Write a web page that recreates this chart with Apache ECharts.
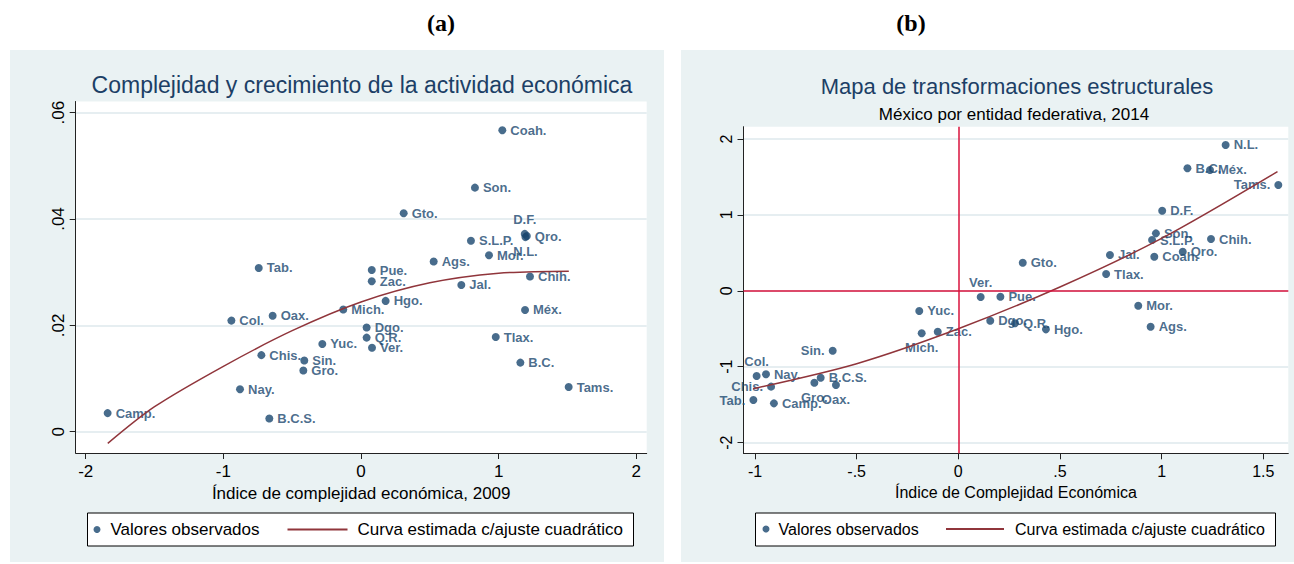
<!DOCTYPE html>
<html><head><meta charset="utf-8">
<script src="https://cdn.jsdelivr.net/npm/echarts@6/dist/echarts.min.js"></script>
<style>html,body{margin:0;padding:0;background:#fff}#c{width:1294px;height:564px}</style>
</head><body><div id="c"></div>
<script>
// ---- data ----
const states = ['Ags.','B.C.','B.C.S.','Camp.','Coah.','Col.','Chis.','Chih.','D.F.','Dgo.','Gto.','Gro.','Hgo.','Jal.','Méx.','Mich.','Mor.','Nay.','N.L.','Oax.','Pue.','Qro.','Q.R.','S.L.P.','Sin.','Son.','Tab.','Tams.','Tlax.','Ver.','Yuc.','Zac.'];
// (a) complexity index 2009 vs growth
const iceA = [0.528,1.158,-0.666,-1.841,1.027,-0.942,-0.724,1.228,1.190,0.041,0.310,-0.419,0.179,0.729,1.192,-0.129,0.930,-0.879,1.195,-0.642,0.078,1.205,0.041,0.799,-0.412,0.828,-0.743,1.509,0.979,0.080,-0.281,0.078];
const growthA = [0.0320,0.0130,0.0025,0.0035,0.0567,0.0209,0.0144,0.0292,0.0372,0.0196,0.0411,0.0115,0.0246,0.0276,0.0229,0.0230,0.0332,0.0080,0.0366,0.0218,0.0304,0.0368,0.0177,0.0359,0.0134,0.0459,0.0308,0.0084,0.0178,0.0158,0.0165,0.0283];
const fitAx = [-1.84,-1.5,-1.0,-0.5,0,0.5,1.0,1.51];
const fitAy = [-0.0022,0.0047,0.0123,0.0190,0.0244,0.0280,0.0298,0.0302];
// (b) complexity index 2014 vs structural transformation
const iceB = [0.946,1.127,-0.677,-0.907,0.964,-0.992,-0.921,1.243,1.003,0.157,0.317,-0.708,0.431,0.746,1.238,-0.180,0.885,-0.946,1.315,-0.602,0.207,1.104,0.279,0.953,-0.618,0.972,-1.008,1.574,0.727,0.110,-0.192,-0.101];
const transfB = [-0.473,1.614,-1.145,-1.483,0.449,-1.123,-1.263,0.682,1.055,-0.394,0.370,-1.211,-0.508,0.472,1.592,-0.560,-0.196,-1.100,1.921,-1.241,-0.078,0.515,-0.428,0.669,-0.789,0.757,-1.439,1.394,0.221,-0.082,-0.266,-0.539];
const fitBx = [-1.01,-0.5,0,0.5,1.0,1.57];
const fitBy = [-1.29,-0.96,-0.50,0.05,0.69,1.57];
// ticks
const ticksAx = [-2,-1,0,1,2];
const ticksAy = [0,0.02,0.04,0.06];
const ticksBx = [-1,-0.5,0,0.5,1,1.5];
const ticksBy = [-2,-1,0,1,2];

// ---- style ----
const FONT = "'Liberation Sans', Arial, sans-serif";
const NAVY = '#1a476f', MAROON = '#90353b', RED = '#d8133c', PANEL = '#eaf2f3', GRIDC = '#e6eef1';
const labelPosA = {'D.F.':'top','N.L.':'bottom'};
const labelPosB = {'Tams.':'left','Sin.':'left','Tab.':'left','Chis.':'left','Col.':'top','Ver.':'top','Mich.':'bottom','Gro.':'bottom','Oax.':'bottom'};
const fmt = v => { let s = String(+v.toFixed(3)); return s.replace(/^(-?)0\./,'$1.'); };

function pts(names, xs, ys, pos){
  return names.map((n,i)=>{
    const d = {name:n, value:[xs[i], ys[i]]};
    if (pos[n]) d.label = {position: pos[n]};
    return d;
  });
}
function xAxisOf(grid, min, max, ticks, name, fs){
  return {type:'value', gridIndex:grid, min, max, name, nameLocation:'middle', nameGap:31,
    nameTextStyle:{fontSize:fs, color:'#000', fontFamily:FONT},
    axisLine:{show:true, onZero:false, lineStyle:{color:'#222', width:1}},
    axisTick:{show:true, length:6, customValues:ticks, lineStyle:{color:'#222'}},
    axisLabel:{customValues:ticks, formatter:fmt, fontSize:fs, color:'#000', fontFamily:FONT, margin:10},
    splitLine:{show:false}};
}
function yAxisOf(grid, min, max, ticks, fs){
  return {type:'value', gridIndex:grid, min, max,
    axisLine:{show:true, onZero:false, lineStyle:{color:'#222', width:1}},
    axisTick:{show:true, length:6, customValues:ticks, lineStyle:{color:'#222'}},
    axisLabel:{customValues:ticks, formatter:fmt, rotate:90, fontSize:fs, color:'#000', fontFamily:FONT, margin:9},
    splitLine:{show:true, lineStyle:{color:GRIDC, width:2}}};
}
const scatterBase = {type:'scatter', name:'Valores observados', symbolSize:8,
  itemStyle:{color:NAVY},
  label:{show:true, position:'right', distance:4, formatter:p=>p.name, color:NAVY, fontSize:13, fontWeight:'bold', fontFamily:FONT}};
const lineBase = {type:'line', name:'Curva estimada c/ajuste cuadrático', smooth:0.3, symbol:'none', clip:false,
  lineStyle:{color:MAROON, width:1.5}, itemStyle:{color:MAROON}, z:3};

const option = {
  animation:false,
  textStyle:{fontFamily:FONT},
  graphic:[
    {type:'rect', z:-10, shape:{x:10,y:50,width:654,height:512}, style:{fill:PANEL}},
    {type:'rect', z:-10, shape:{x:681,y:50,width:613,height:512}, style:{fill:PANEL}},
    {type:'rect', z:1, shape:{x:87.5,y:513,width:546,height:33}, style:{fill:'#fff', stroke:'#000', lineWidth:1}},
    {type:'rect', z:1, shape:{x:755.5,y:513,width:520,height:33}, style:{fill:'#fff', stroke:'#000', lineWidth:1}},
    {type:'text', x:441, y:23, style:{text:'(a)', fill:'#000', font:"bold 24px 'Liberation Serif', 'Times New Roman', serif", align:'center', verticalAlign:'middle'}},
    {type:'text', x:911, y:23, style:{text:'(b)', fill:'#000', font:"bold 24px 'Liberation Serif', 'Times New Roman', serif", align:'center', verticalAlign:'middle'}},
    {type:'text', x:362, y:85, style:{text:'Complejidad y crecimiento de la actividad económica', fill:'#1c3f66', font:"23px 'Liberation Sans', Arial, sans-serif", align:'center', verticalAlign:'middle'}},
    {type:'text', x:1017, y:86, style:{text:'Mapa de transformaciones estructurales', fill:'#1c3f66', font:"22px 'Liberation Sans', Arial, sans-serif", align:'center', verticalAlign:'middle'}},
    {type:'text', x:1014, y:114, style:{text:'México por entidad federativa, 2014', fill:'#000', font:"17px 'Liberation Sans', Arial, sans-serif", align:'center', verticalAlign:'middle'}}
  ],
  grid:[
    {left:75.7, top:101.5, width:571, height:351.5, show:true, backgroundColor:'#fff', borderWidth:0},
    {left:743.5, top:126.7, width:544.8, height:326.6, show:true, backgroundColor:'#fff', borderWidth:0}
  ],
  xAxis:[
    xAxisOf(0, -2.073, 2.076, ticksAx, 'Índice de complejidad económica, 2009', 17),
    xAxisOf(1, -1.0566, 1.6232, ticksBx, 'Índice de Complejidad Económica', 16)
  ],
  yAxis:[
    yAxisOf(0, -0.0040, 0.0621, ticksAy, 17),
    yAxisOf(1, -2.141, 2.162, ticksBy, 16)
  ],
  legend:[
    {data:['Valores observados'], left:93.5, top:521, padding:0, itemWidth:7, itemHeight:7, icon:'circle', selectedMode:false,
      textStyle:{fontSize:17, color:'#000', fontFamily:FONT, padding:[0,0,0,5]}},
    {data:[{name:'Curva estimada c/ajuste cuadrático', icon:'rect'}], left:287.5, top:521, padding:0, itemWidth:60, itemHeight:2, selectedMode:false,
      textStyle:{fontSize:17, color:'#000', fontFamily:FONT, padding:[0,0,0,5]}},
    {data:['Valores observados'], left:762.5, top:521, padding:0, itemWidth:7, itemHeight:7, icon:'circle', selectedMode:false,
      textStyle:{fontSize:16, color:'#000', fontFamily:FONT, padding:[0,0,0,4]}},
    {data:[{name:'Curva estimada c/ajuste cuadrático', icon:'rect'}], left:946, top:521, padding:0, itemWidth:58, itemHeight:2, selectedMode:false,
      textStyle:{fontSize:16, color:'#000', fontFamily:FONT, padding:[0,0,0,6]}}
  ],
  series:[
    Object.assign({}, scatterBase, {xAxisIndex:0, yAxisIndex:0, data:pts(states, iceA, growthA, labelPosA)}),
    Object.assign({}, lineBase, {xAxisIndex:0, yAxisIndex:0, data:fitAx.map((x,i)=>[x, fitAy[i]])}),
    Object.assign({}, scatterBase, {xAxisIndex:1, yAxisIndex:1, data:pts(states, iceB, transfB, labelPosB),
      markLine:{silent:true, symbol:'none', label:{show:false}, lineStyle:{color:RED, width:1.5, type:'solid'},
        data:[{xAxis:0},{yAxis:0}]}}),
    Object.assign({}, lineBase, {xAxisIndex:1, yAxisIndex:1, data:fitBx.map((x,i)=>[x, fitBy[i]])})
  ]
};
const chart = echarts.init(document.getElementById('c'), null, {renderer:'svg', width:1294, height:564});
chart.setOption(option);
</script></body></html>
